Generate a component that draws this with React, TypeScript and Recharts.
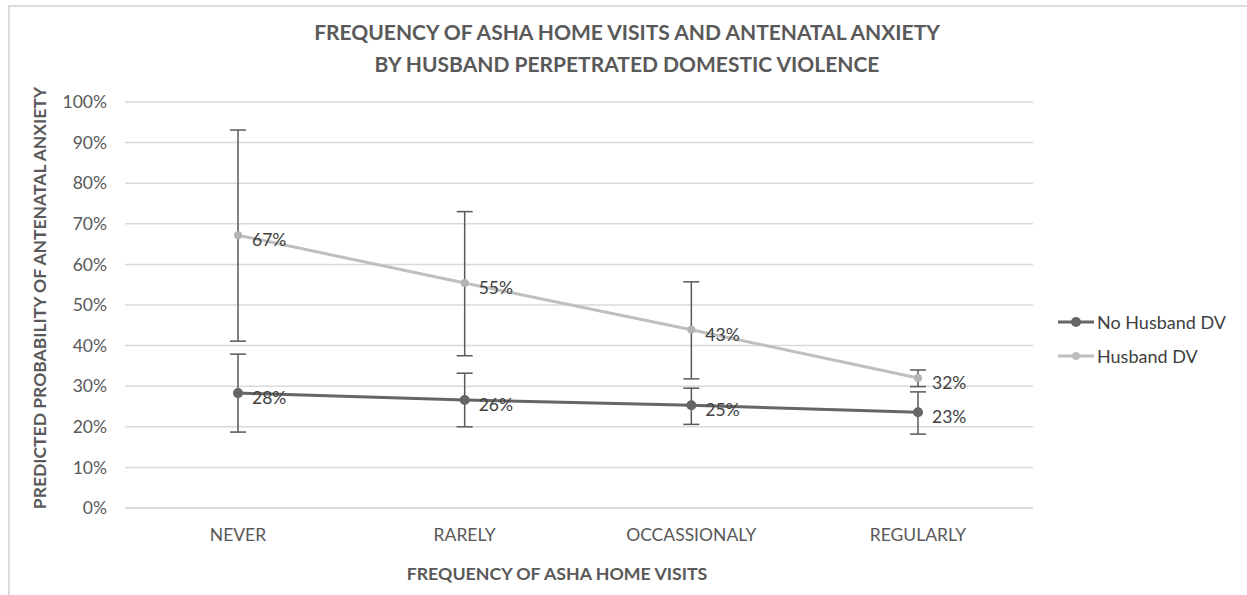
import React from 'react';
import {
  LineChart, Line, XAxis, YAxis, CartesianGrid, ErrorBar, LabelList,
} from 'recharts';

const categories = ['NEVER', 'RARELY', 'OCCASSIONALY', 'REGULARLY'];

const noDv = [28.3, 26.6, 25.3, 23.6];
const noDvLow = [18.7, 20.0, 20.6, 18.2];
const noDvHigh = [37.9, 33.2, 29.5, 28.6];
const noDvLabels = ['28%', '26%', '25%', '23%'];

const hdv = [67.2, 55.4, 43.9, 32.0];
const hdvLow = [41.1, 37.5, 31.8, 29.9];
const hdvHigh = [93.1, 73.0, 55.7, 34.0];
const hdvLabels = ['67%', '55%', '43%', '32%'];

const yTicks = [0, 10, 20, 30, 40, 50, 60, 70, 80, 90, 100];

const FONT = 'Lato, "Open Sans", sans-serif';
const DARK = '#666666';
const LIGHT = '#bfbfbf';

const data = categories.map((c, i) => ({
  cat: c,
  noDv: noDv[i],
  noDvErr: [noDv[i] - noDvLow[i], noDvHigh[i] - noDv[i]],
  noDvLabel: noDvLabels[i],
  hdv: hdv[i],
  hdvErr: [hdv[i] - hdvLow[i], hdvHigh[i] - hdv[i]],
  hdvLabel: hdvLabels[i],
}));

// ─── Legend (line + marker swatch) ────────────────────────────────────────────
const LegendBox = () => (
  <div style={{ position: 'absolute', left: 1058, top: 305, fontFamily: FONT, fontSize: 18, color: '#404040' }}>
    {[
      { name: 'No Husband DV', color: DARK, r: 5 },
      { name: 'Husband DV', color: LIGHT, r: 4 },
    ].map((s) => (
      <div key={s.name} style={{ display: 'flex', alignItems: 'center', height: 34 }}>
        <svg width={38} height={12}>
          <line x1={0} y1={6} x2={36} y2={6} stroke={s.color} strokeWidth={3} />
          <circle cx={18} cy={6} r={s.r} fill={s.color} />
        </svg>
        <span style={{ marginLeft: 1 }}>{s.name}</span>
      </div>
    ))}
  </div>
);

export default function App() {
  return (
    <div style={{ position: 'fixed', left: 0, top: 0, width: 1247, height: 595, background: '#fff' }}>
      <div style={{ position: 'absolute', left: 8, top: 5, width: 1237, height: 590, borderLeft: '2px solid #dcdcdc', borderTop: '2px solid #dcdcdc' }} />

      <div
        style={{
          position: 'absolute', left: 277, top: 16, width: 700, textAlign: 'center',
          fontFamily: FONT, fontWeight: 700, fontSize: 21, lineHeight: '32px', color: '#595959',
        }}
      >
        FREQUENCY OF ASHA HOME VISITS AND ANTENATAL ANXIETY
        <br />
        BY HUSBAND PERPETRATED DOMESTIC VIOLENCE
      </div>

      <div style={{ position: 'absolute', left: 40, top: 298, width: 0, height: 0 }}>
        <div
          style={{
            position: 'absolute', left: -250, top: -12, width: 500, textAlign: 'center',
            transform: 'rotate(-90deg)', fontFamily: FONT, fontWeight: 700, fontSize: 17.5,
            lineHeight: '24px', color: '#595959', whiteSpace: 'nowrap',
          }}
        >
          PREDICTED PROBABILITY OF ANTENATAL ANXIETY
        </div>
      </div>

      <div
        style={{
          position: 'absolute', left: 357, top: 562, width: 400, textAlign: 'center',
          fontFamily: FONT, fontWeight: 700, fontSize: 17.75, color: '#595959',
        }}
      >
        FREQUENCY OF ASHA HOME VISITS
      </div>

      <LegendBox />

      <div style={{ position: 'absolute', left: 0, top: 0 }}>
        <LineChart width={1247} height={595} data={data} margin={{ top: 102, right: 214, bottom: 57, left: 55 }}>
          <CartesianGrid vertical={false} stroke="#d9d9d9" strokeWidth={1.5} />
          <XAxis
            dataKey="cat"
            height={30}
            tickLine={false}
            axisLine={{ stroke: '#d9d9d9', strokeWidth: 1.5 }}
            tickMargin={15}
            padding={{ left: 113, right: 115 }}
            tick={{ fill: '#595959', fontSize: 17.5, fontFamily: FONT }}
            interval={0}
          />
          <YAxis
            width={70}
            domain={[0, 100]}
            ticks={yTicks}
            tickFormatter={(v) => `${v}%`}
            tickLine={false}
            axisLine={false}
            tickMargin={12}
            tick={{ fill: '#595959', fontSize: 17.5, fontFamily: FONT }}
          />
          <Line
            dataKey="noDv"
            name="No Husband DV"
            stroke={DARK}
            strokeWidth={3}
            dot={{ r: 5, fill: DARK, stroke: DARK, strokeWidth: 0 }}
            activeDot={false}
            isAnimationActive={false}
          >
            <ErrorBar dataKey="noDvErr" direction="y" width={8} stroke="#595959" strokeWidth={1.5} />
            <LabelList dataKey="noDvLabel" position="right" offset={14} dy={5} style={{ fill: '#404040', fontSize: 17.5, fontFamily: FONT }} />
          </Line>
          <Line
            dataKey="hdv"
            name="Husband DV"
            stroke={LIGHT}
            strokeWidth={3}
            dot={{ r: 4, fill: '#b3b3b3', stroke: '#b3b3b3', strokeWidth: 0 }}
            activeDot={false}
            isAnimationActive={false}
          >
            <ErrorBar dataKey="hdvErr" direction="y" width={8} stroke="#595959" strokeWidth={1.5} />
            <LabelList dataKey="hdvLabel" position="right" offset={14} dy={5} style={{ fill: '#404040', fontSize: 17.5, fontFamily: FONT }} />
          </Line>
        </LineChart>
      </div>
    </div>
  );
}
